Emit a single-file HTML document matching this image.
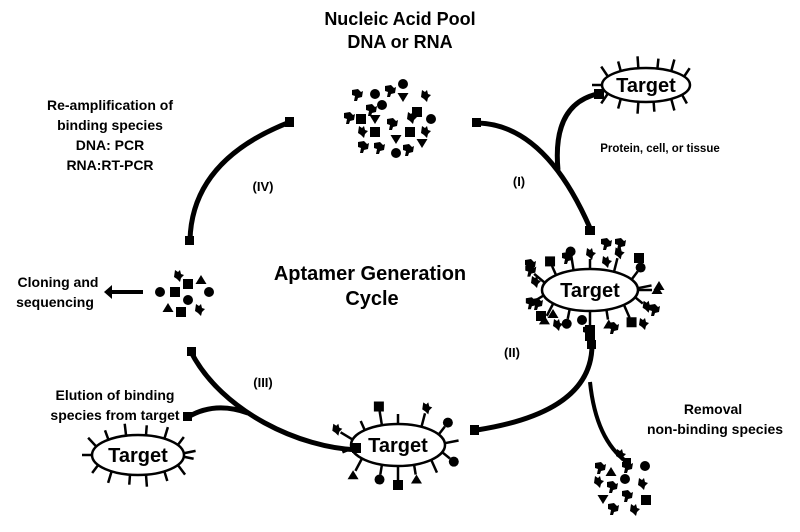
<!DOCTYPE html>
<html><head><meta charset="utf-8"><style>
html,body{margin:0;padding:0;background:#fff;}
svg{display:block;font-family:"Liberation Sans",Arial,sans-serif;font-weight:bold;}
</style></head><body>
<svg id="s" width="800" height="532" viewBox="0 0 800 532" xmlns="http://www.w3.org/2000/svg">
<defs>
<circle id="c" r="5" fill="#000"/>
<rect id="q" x="-5" y="-5" width="10" height="10" fill="#000"/>
<path id="t" d="M-5.5,-4 L5.5,-4 L0,5 Z" fill="#000"/>
<path id="u" d="M-5.5,4 L5.5,4 L0,-5 Z" fill="#000"/>
<path id="h" d="M-5,-5 L1,-6 L4,-3 L6,-4 L5,2 L1,3 L0,6 L-3,6 L-2,1 L-5,0 Z" fill="#000"/>
<path id="k" d="M-3,-6 L0,-4 L2,-6 L3,-2 L6,-1 L3,2 L2,6 L-1,3 L-4,1 Z" fill="#000"/>
</defs>
<g fill="#000" text-anchor="middle">
<text x="400" y="25" font-size="18">Nucleic Acid Pool</text>
<text x="400" y="48" font-size="18">DNA or RNA</text>
<text x="110" y="110" font-size="14">Re-amplification  of</text>
<text x="110" y="130" font-size="14">binding species</text>
<text x="110" y="150" font-size="14">DNA: PCR</text>
<text x="110" y="170" font-size="14">RNA:RT-PCR</text>
<text x="370" y="280" font-size="20">Aptamer Generation</text>
<text x="372" y="305" font-size="20">Cycle</text>
<text x="263" y="191" font-size="13">(IV)</text>
<text x="519" y="186" font-size="13">(I)</text>
<text x="512" y="357" font-size="13">(II)</text>
<text x="263" y="387" font-size="13">(III)</text>
<text x="660" y="152" font-size="11.5">Protein, cell, or tissue</text>
<text x="713" y="414" font-size="14">Removal</text>
<text x="715" y="434" font-size="14">non-binding species</text>
<text x="115" y="400" font-size="14">Elution of binding</text>
<text x="115" y="420" font-size="14">species from target</text>
<text x="58" y="287" font-size="14">Cloning and</text>
<text x="55" y="307" font-size="14">sequencing</text>
</g>
<g fill="none" stroke="#000" stroke-linecap="butt">
<path d="M478,123 Q545,125 590,228" stroke-width="5"/>
<path d="M558,170 Q552,105 597,94" stroke-width="5"/>
<path d="M592,345 Q592,412 477,430" stroke-width="5"/>
<path d="M590,382 Q596,440 627,462" stroke-width="4"/>
<path d="M358,450 C300,448 222,412 191,352" stroke-width="5"/>
<path d="M248,413 Q215,401 188,417" stroke-width="5"/>
<path d="M190,240 Q192,160 290,122" stroke-width="5"/>
<path d="M143,292 L110,292" stroke-width="4"/>
</g>
<g fill="#000">
<rect x="472" y="118" width="9" height="9"/>
<rect x="585" y="226" width="10" height="9"/>
<rect x="594" y="89" width="10" height="10"/>
<rect x="587" y="340" width="9" height="9"/>
<rect x="470" y="425" width="9" height="10"/>
<rect x="623" y="458" width="8" height="8"/>
<rect x="352" y="443" width="9" height="10"/>
<rect x="183" y="412" width="9" height="9"/>
<rect x="187" y="347" width="9" height="9"/>
<rect x="285" y="117" width="9" height="10"/>
<rect x="185" y="236" width="9" height="9"/>
<path d="M104,292 L112,285 L112,299 Z"/>
</g>
<g id="tg" fill="none" stroke="#000" stroke-width="2.5"></g>
<g id="sc"></g>
<g text-anchor="middle" font-size="20" fill="#000">
<text x="646" y="92">Target</text>
<text x="590" y="297">Target</text>
<text x="398" y="452">Target</text>
<text x="138" y="462">Target</text>
</g>
</svg>
<script>
var NS="http://www.w3.org/2000/svg",tg=document.getElementById("tg"),sc=document.getElementById("sc");
function el(n,a,p){var e=document.createElementNS(NS,n);for(var k in a)e.setAttribute(k,a[k]);(p||tg).appendChild(e);return e;}
function use(id,x,y){el("use",{href:"#"+id,x:x,y:y},sc);}
function target(cx,cy,rx,ry,angles,len,sym){
 el("ellipse",{cx:cx,cy:cy,rx:rx,ry:ry});
 angles.forEach(function(a,i){var r=a*Math.PI/180,x=cx+rx*Math.cos(r),y=cy+ry*Math.sin(r);
  var nx=Math.cos(r)/rx,ny=Math.sin(r)/ry,l=Math.hypot(nx,ny);nx/=l;ny/=l;
  var L=len[i%len.length];el("line",{x1:x,y1:y,x2:x+nx*L,y2:y+ny*L});
  if(sym&&sym[i]) use(sym[i],x+nx*(L+5),y+ny*(L+5));});
}
target(646,85,44,17,[180,210,235,260,285,305,330,150,125,100,80,55,35],[10,12]);
target(138,455,46,20,[180,205,230,255,280,305,330,355,150,125,100,80,55,30,5],[10,12]);
target(398,445,47,21,[195,225,250,270,300,330,355,170,140,110,90,70,45,20],[14,10],["k","","q","","k","c","","","u","c","q","u","","c"]);
target(590,290,48,21,[200,225,250,270,300,330,355,165,140,115,90,70,45,20,0],[14,10],["h","q","c","k","k","c","","h","u","c","q","u","q","k","u"]);
[["h",530,265],["h",537,304],["k",535,282],["q",541,316],["u",553,314],["k",557,325],["c",582,320],["h",588,332],["q",590,336],["h",613,328],["k",643,324],["h",654,310],["u",659,286],["q",639,258],["h",606,244],["h",620,244],["k",606,262],["h",567,258]].forEach(function(s){use(s[0],s[1],s[2]);});
[["h",357,95],["c",375,94],["h",390,91],["c",403,84],["t",403,97],["k",425,96],["h",371,110],["c",382,105],["h",349,118],["q",361,119],["t",375,119],["h",392,124],["k",411,118],["q",417,112],["c",431,119],["k",362,132],["q",375,132],["t",396,139],["q",410,132],["k",425,132],["h",363,147],["h",379,148],["c",396,153],["h",408,150],["t",422,143]].forEach(function(s){use(s[0],s[1],s[2]);});
[["k",178,276],["q",188,284],["u",201,280],["c",160,292],["q",175,292],["c",209,292],["c",188,300],["u",168,308],["q",181,312],["k",199,310]].forEach(function(s){use(s[0],s[1],s[2]);});
[["k",620,455],["h",600,468],["h",627,467],["c",645,466],["u",611,472],["c",625,479],["k",598,482],["h",612,487],["k",642,484],["t",603,499],["h",627,496],["q",646,500],["h",613,509],["k",634,510]].forEach(function(s){use(s[0],s[1],s[2]);});
</script>
</body></html>
